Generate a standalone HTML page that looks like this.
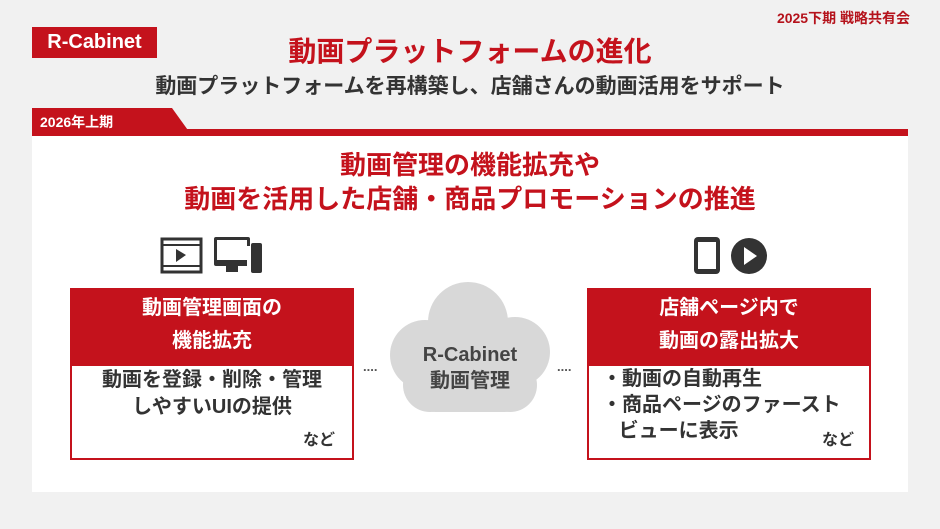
<!DOCTYPE html>
<html><head><meta charset="utf-8"><style>
body{margin:0;width:940px;height:529px;background:#f1f1f1;position:relative;overflow:hidden;font-family:"Liberation Sans","Noto Sans CJK JP",sans-serif;font-weight:bold}
div{position:absolute;white-space:nowrap}
.c{text-align:center}
</style></head><body>
<div style="left:740px;top:8px;width:170px;text-align:right;color:#b5121b;font-size:14px">2025下期 戦略共有会</div>
<div style="left:32px;top:27px;width:125px;height:31px;background:#c4121c;color:#fff;font-size:20px;line-height:30px;text-align:center">R-Cabinet</div>
<div class="c" style="left:0;top:30px;width:940px;font-size:28px;color:#c4121c">動画プラットフォームの進化</div>
<div class="c" style="left:0;top:70px;width:940px;font-size:21px;color:#333">動画プラットフォームを再構築し、店舗さんの動画活用をサポート</div>
<svg style="position:absolute;left:0;top:0" width="940" height="529">
<polygon points="32,108 172,108 190,133 32,133" fill="#c4121c"/>
<rect x="32" y="129" width="876" height="7" fill="#c4121c"/>
<rect x="32" y="136" width="876" height="356" fill="#fff"/>
<g fill="#d8d8d8">
<circle cx="468" cy="322" r="40"/><circle cx="425" cy="355" r="35"/><circle cx="515" cy="352" r="35"/>
<circle cx="430" cy="385" r="27"/><circle cx="510" cy="385" r="27"/><rect x="410" y="340" width="120" height="72" rx="26"/>
</g>
<g fill="none" stroke="#333" stroke-width="3"><rect x="162" y="239" width="39" height="33"/></g>
<g fill="#333"><rect x="163" y="244" width="37" height="2"/><rect x="163" y="265" width="37" height="2"/><polygon points="176,249 176,262 186,255"/>
<rect x="214" y="237" width="36" height="29" rx="2"/><rect x="226" y="266" width="12" height="6"/><rect x="251" y="243" width="11" height="30" rx="2"/>
<rect x="694" y="237" width="26" height="37" rx="4"/><circle cx="749" cy="256" r="18"/></g>
<rect x="698" y="242" width="18" height="27" fill="#fff"/><rect x="217" y="240" width="30" height="20" fill="#fff"/><rect x="247" y="246" width="4" height="25" fill="#fff"/>
<polygon points="744,247 744,265 757,256" fill="#fff"/>
<rect x="71" y="289" width="282" height="170" fill="#fff" stroke="#c4121c" stroke-width="2"/>
<rect x="70" y="288" width="284" height="78" fill="#c4121c"/>
<rect x="588" y="289" width="282" height="170" fill="#fff" stroke="#c4121c" stroke-width="2"/>
<rect x="587" y="288" width="284" height="78" fill="#c4121c"/>
</svg>
<div style="left:40px;top:112px;color:#fff;font-size:14px">2026年上期</div>
<div class="c" style="left:0;top:148px;width:940px;font-size:26px;line-height:34px;color:#c4121c">動画管理の機能拡充や<br>動画を活用した店舗・商品プロモーションの推進</div>
<div class="c" style="left:70px;top:292px;width:284px;font-size:20px;line-height:33px;color:#fff">動画管理画面の<br>機能拡充</div>
<div class="c" style="left:70px;top:367px;width:284px;font-size:20px;line-height:27px;color:#333">動画を登録・削除・管理<br>しやすいUIの提供</div>
<div style="left:303px;top:426px;font-size:16px;color:#333">など</div>
<div class="c" style="left:587px;top:292px;width:284px;font-size:20px;line-height:33px;color:#fff">店舗ページ内で<br>動画の露出拡大</div>
<div style="left:602px;top:366px;font-size:20px;line-height:26px;color:#333">・動画の自動再生<br>・商品ページのファースト<br>&nbsp;&nbsp;&nbsp;ビューに表示</div>
<div style="left:822px;top:426px;font-size:16px;color:#333">など</div>
<div class="c" style="left:390px;top:342px;width:160px;font-size:20px;line-height:26px;color:#444">R-Cabinet<br>動画管理</div>
<div style="left:363px;top:359px;font-size:13px;color:#555">....</div>
<div style="left:557px;top:359px;font-size:13px;color:#555">....</div>
</body></html>
